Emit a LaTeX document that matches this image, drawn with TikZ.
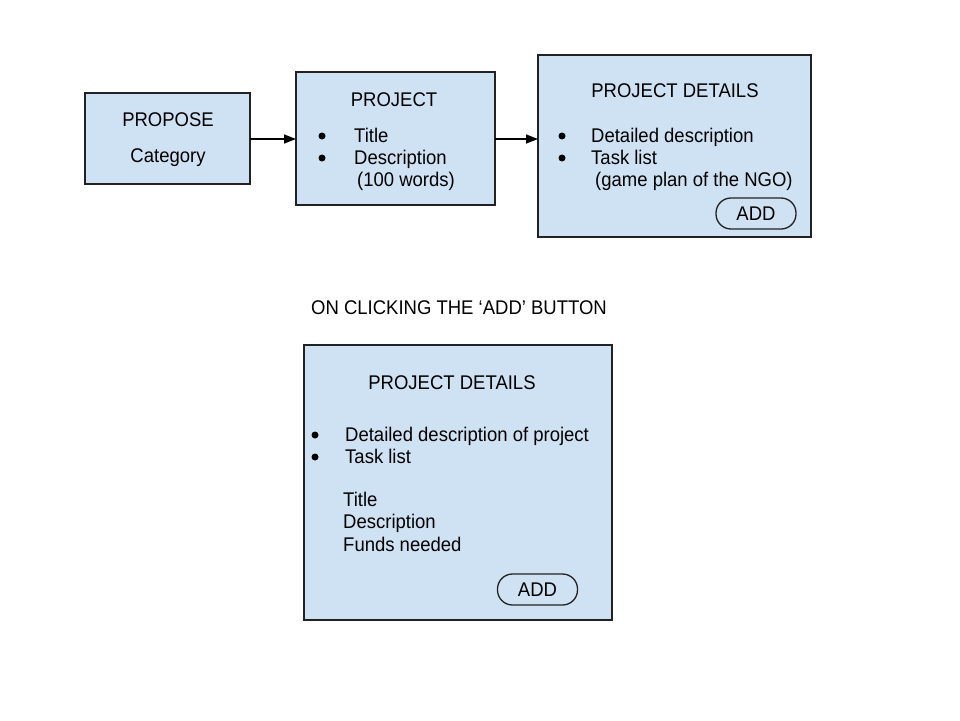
\documentclass[tikz,border=0pt]{standalone}
\usepackage{fontspec}
\setmainfont{Liberation Sans}
\usetikzlibrary{arrows.meta}
\definecolor{boxfill}{HTML}{CFE2F3}
\definecolor{boxline}{HTML}{222222}
\newcommand\vtall[1]{\scalebox{1}[1.07]{#1}}
\tikzset{
  panel/.style={draw=boxline, line width=1.5pt, fill=boxfill},
  btn/.style={draw=boxline, line width=1.3pt, rounded corners=15pt, fill=boxfill, minimum width=80pt, minimum height=31pt, inner sep=0pt, font=\fontsize{18.5}{22}\selectfont},
  txt/.style={inner sep=0pt, font=\fontsize{18.5}{22}\selectfont},
  ltxt/.style={txt, anchor=base west},
  ctxt/.style={txt, anchor=base},
  dot/.style={circle, fill=black, inner sep=0pt, minimum size=7pt},
  flow/.style={line width=1.4pt, -{Triangle[length=12pt,width=9pt]}}
}
\begin{document}
\begin{tikzpicture}[x=1pt,y=-1pt]
\useasboundingbox (0,0) rectangle (960,720);
% boxes
\draw[panel] (85,93) rectangle (250,184);
\coordinate (proposeE) at (250,139);
\draw[panel] (296,72) rectangle (495,205);
\coordinate (projectW) at (296,139);
\coordinate (projectE) at (495,139);
\draw[panel] (538,55) rectangle (811,237);
\coordinate (detailsW) at (538,139);
\draw[panel] (304,345) rectangle (612,620);
% arrows
\draw[flow] (proposeE) -- (projectW);
\draw[flow] (projectE) -- (detailsW);
% PROPOSE box text
\node[ctxt] (t1) at (168,126.5) {\vtall{PROPOSE}};
\node[ctxt] (t2) at (168,162) {\vtall{Category}};
% PROJECT box text
\node[ctxt] (t3) at (394,106.5) {\vtall{PROJECT}};
\node[dot] (b1) at (322,136) {};
\node[dot] (b2) at (322,158) {};
\node[ltxt] (t4) at (354,142.5) {\vtall{Title}};
\node[ltxt] (t5) at (354,164.5) {\vtall{Description}};
\node[ltxt] (t6) at (357,186.5) {\vtall{(100 words)}};
% PROJECT DETAILS top
\node[ctxt] (t7) at (675,97.5) {\vtall{PROJECT DETAILS}};
\node[dot] (b3) at (562,136) {};
\node[dot] (b4) at (562,158) {};
\node[ltxt] (t8) at (591,142.5) {\vtall{Detailed description}};
\node[ltxt] (t9) at (591,164.5) {\vtall{Task list}};
\node[ltxt] (t10) at (595,186.5) {\vtall{(game plan of the NGO)}};
\node[btn] (add1) at (756,213.5) {\vtall{ADD}};
% caption
\node[ctxt] (cap) at (459,314.5) {\vtall{ON CLICKING THE ‘ADD’ BUTTON}};
% bottom box
\node[ctxt] (t11) at (452,389.5) {\vtall{PROJECT DETAILS}};
\node[dot] (b5) at (315,435) {};
\node[dot] (b6) at (315,457) {};
\node[ltxt] (t12) at (345,441.5) {\vtall{Detailed description of project}};
\node[ltxt] (t13) at (345,463.5) {\vtall{Task list}};
\node[ltxt] (t14) at (343,506.5) {\vtall{Title}};
\node[ltxt] (t15) at (343,528.5) {\vtall{Description}};
\node[ltxt] (t16) at (343,551.5) {\vtall{Funds needed}};
\node[btn] (add2) at (537.5,589.5) {\vtall{ADD}};
\end{tikzpicture}
\end{document}
